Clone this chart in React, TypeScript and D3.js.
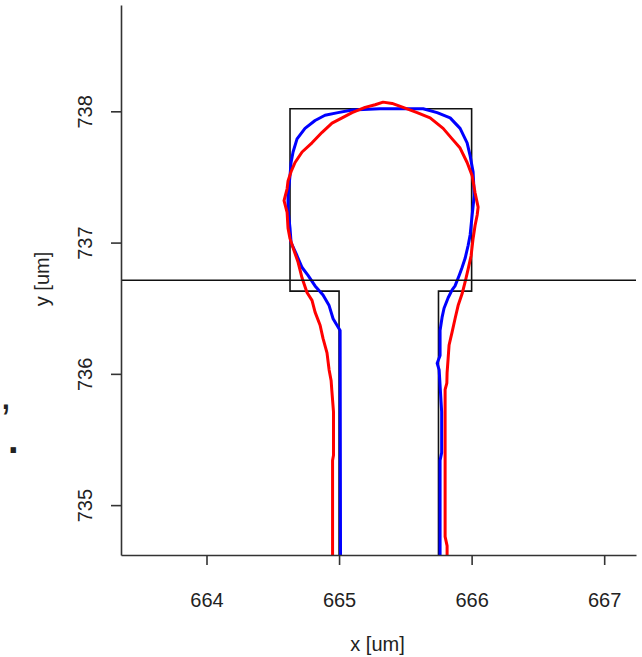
import React, { useEffect, useRef } from "react";
import * as d3 from "d3";

// design outline (um)
const designX = [665.0, 665.0, 664.63, 664.63, 666.0, 666.0, 665.75, 665.75];
const designY = [734.5, 736.63, 736.63, 738.02, 738.02, 736.63, 736.63, 734.5];

// measured contour (blue)
const blueX = [665.011, 665.008, 664.955, 664.925, 664.879, 664.819, 664.766, 664.721, 664.683, 664.638, 664.63, 664.615, 664.615, 664.63, 664.638, 664.653, 664.683, 664.743, 664.819, 664.894, 664.992, 665.098, 665.309, 665.634, 665.74, 665.838, 665.913, 665.966, 665.989, 666.011, 666.02, 666.004, 665.989, 665.974, 665.951, 665.928, 665.906, 665.875, 665.853, 665.823, 665.792, 665.777, 665.762, 665.762, 665.74, 665.755, 665.774, 665.774, 665.762, 665.762];
const blueY = [734.58, 736.33, 736.42, 736.52, 736.6, 736.67, 736.75, 736.81, 736.9, 737.0, 737.11, 737.25, 737.36, 737.51, 737.61, 737.69, 737.79, 737.87, 737.93, 737.97, 737.99, 738.01, 738.02, 738.02, 737.99, 737.95, 737.87, 737.76, 737.66, 737.54, 737.36, 737.21, 737.06, 736.98, 736.88, 736.81, 736.75, 736.67, 736.64, 736.58, 736.5, 736.43, 736.33, 736.14, 736.08, 736.03, 735.71, 735.4, 735.34, 734.58];

// simulated contour (red)
const redX = [664.951, 664.951, 664.958, 664.958, 664.945, 664.94, 664.925, 664.909, 664.879, 664.857, 664.819, 664.796, 664.758, 664.721, 664.691, 664.653, 664.63, 664.615, 664.608, 664.585, 664.608, 664.615, 664.638, 664.668, 664.721, 664.796, 664.872, 664.947, 665.023, 665.098, 665.196, 665.272, 665.332, 665.4, 665.483, 665.589, 665.687, 665.785, 665.853, 665.913, 665.966, 666.004, 666.026, 666.049, 666.042, 666.026, 666.011, 665.996, 665.974, 665.951, 665.928, 665.898, 665.875, 665.853, 665.83, 665.823, 665.815, 665.813, 665.8, 665.8, 665.815, 665.815];
const redY = [734.58, 735.34, 735.38, 735.71, 735.88, 735.95, 736.03, 736.16, 736.27, 736.37, 736.47, 736.56, 736.62, 736.73, 736.85, 736.96, 737.03, 737.11, 737.23, 737.32, 737.41, 737.47, 737.54, 737.61, 737.69, 737.76, 737.84, 737.91, 737.95, 737.99, 738.03, 738.05, 738.07, 738.06, 738.03, 737.99, 737.95, 737.87, 737.79, 737.72, 737.61, 737.51, 737.38, 737.27, 737.21, 737.13, 737.03, 736.9, 736.8, 736.7, 736.61, 736.52, 736.42, 736.32, 736.22, 736.12, 736.01, 735.93, 735.88, 734.76, 734.69, 734.58];

const xTicks = [664, 665, 666, 667];
const yTicks = [735, 736, 737, 738];
const cutLevel = 736.713;

const App = () => {
  const svgRef = useRef(null);
  useEffect(() => {
    const svg = d3.select(svgRef.current);
    svg.selectAll("*").remove();
    const left = 121, right = 636, top = 5, bottom = 555;
    const font = "'Liberation Sans', Arial, sans-serif";

    const x = d3.scaleLinear().domain([663.355, 667.24]).range([left, right]);
    const y = d3.scaleLinear().domain([734.62, 738.81]).range([bottom, top]);

    svg.append("defs").append("clipPath").attr("id", "plotclip")
      .append("rect").attr("x", left).attr("y", top)
      .attr("width", right - left).attr("height", bottom - top);

    const plot = svg.append("g").attr("clip-path", "url(#plotclip)");
    const line = d3.line().x((d) => x(d[0])).y((d) => y(d[1]));

    plot.append("path")
      .attr("d", line(designX.map((v, i) => [v, designY[i]])))
      .attr("fill", "none").attr("stroke", "#111").attr("stroke-width", 1.6);
    plot.append("path")
      .attr("d", line(blueX.map((v, i) => [v, blueY[i]])))
      .attr("fill", "none").attr("stroke", "#0000ff").attr("stroke-width", 3)
      .attr("stroke-linejoin", "round");
    plot.append("path")
      .attr("d", line(redX.map((v, i) => [v, redY[i]])))
      .attr("fill", "none").attr("stroke", "#ff0000").attr("stroke-width", 3)
      .attr("stroke-linejoin", "round");
    plot.append("line")
      .attr("x1", left).attr("x2", right)
      .attr("y1", y(cutLevel)).attr("y2", y(cutLevel))
      .attr("stroke", "#111").attr("stroke-width", 1.6);

    const fmt = d3.format("d");
    const xAxis = svg.append("g")
      .attr("transform", `translate(0,${bottom})`)
      .call(d3.axisBottom(x).tickValues(xTicks).tickFormat(fmt).tickSize(10).tickSizeOuter(0));
    const yAxis = svg.append("g")
      .attr("transform", `translate(${left},0)`)
      .call(d3.axisLeft(y).tickValues(yTicks).tickFormat(fmt).tickSize(10).tickSizeOuter(0));

    [xAxis, yAxis].forEach((g) => {
      g.select(".domain").attr("stroke", "#333").attr("stroke-width", 1.6);
      g.selectAll(".tick line").attr("stroke", "#333").attr("stroke-width", 1.6);
      g.selectAll(".tick text").attr("fill", "#222")
        .style("font-family", font).style("font-size", "20px");
    });
    xAxis.selectAll(".tick text").attr("y", 52).attr("dy", 0);
    yAxis.selectAll(".tick text")
      .attr("transform", "rotate(-90)")
      .attr("x", 0).attr("y", -29).attr("dy", 0)
      .attr("text-anchor", "middle");

    svg.append("text")
      .attr("x", (left + right) / 2 - 1).attr("y", 651)
      .attr("text-anchor", "middle")
      .style("font-family", font).style("font-size", "20px").attr("fill", "#222")
      .text("x [um]");
    svg.append("text")
      .attr("transform", "rotate(-90)")
      .attr("x", -279).attr("y", 49)
      .attr("text-anchor", "middle")
      .style("font-family", font).style("font-size", "20px").attr("fill", "#222")
      .text("y [um]");

    // stray glyphs at the left edge
    const stray = svg.append("text")
      .style("font-family", font).attr("fill", "#222");
    stray.append("tspan").attr("x", 0).attr("y", 409)
      .style("font-size", "42px").text(",");
    stray.append("tspan").attr("x", 8).attr("y", 453)
      .style("font-size", "38px").style("font-weight", "bold").text(".");
  }, []);
  return (
    <svg ref={svgRef} width={642} height={657}
      style={{ position: "absolute", left: 0, top: 0, background: "#fff" }}></svg>
  );
};

export default App;
